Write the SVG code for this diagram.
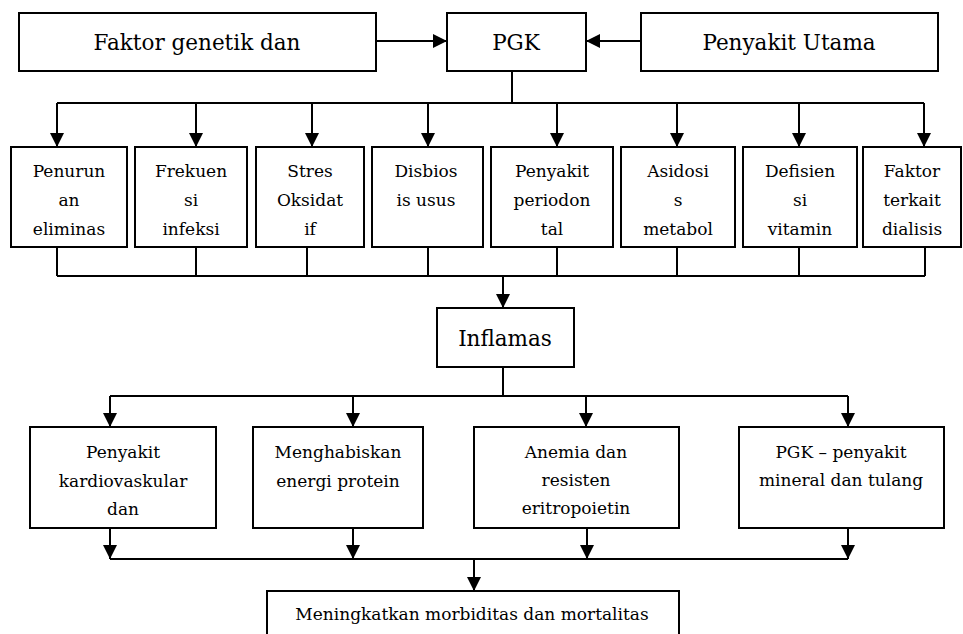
<svg xmlns="http://www.w3.org/2000/svg" width="963" height="634" viewBox="0 0 963 634" font-family="DejaVu Serif, serif">
<style>
rect{fill:#fff;stroke:#000;stroke-width:2}
text{fill:#000;text-anchor:middle}
.big{font-size:21.5px}
.mid{font-size:17px}
#connectors path{fill:none;stroke:#000;stroke-width:2}
.arr{marker-end:url(#ah)}
</style>
<defs>
<marker id="ah" markerUnits="userSpaceOnUse" viewBox="0 0 14 14" refX="14" refY="7" markerWidth="14" markerHeight="14" orient="auto">
<path d="M0,0 L14,7 L0,14 z" fill="#000"/>
</marker>
</defs>
<rect width="963" height="634" style="fill:#fff;stroke:none"/>
<g id="connectors">
<path class="arr" d="M376,41 H447"/>
<path class="arr" d="M641,41 H586"/>
<path d="M512,71 V103 M57,103 H924"/>
<path class="arr" d="M57,103 V147"/>
<path class="arr" d="M196,103 V147"/>
<path class="arr" d="M312,103 V147"/>
<path class="arr" d="M428,103 V147"/>
<path class="arr" d="M557,103 V147"/>
<path class="arr" d="M677,103 V147"/>
<path class="arr" d="M799,103 V147"/>
<path class="arr" d="M924,103 V147"/>
<path d="M57,247 V276 M196,247 V276 M307,247 V276 M428,247 V276 M557,247 V276 M677,247 V276 M799,247 V276 M925,247 V276 M57,276 H925"/>
<path class="arr" d="M503,276 V308"/>
<path d="M503,367 V396 M110,396 H848"/>
<path class="arr" d="M110,396 V427"/>
<path class="arr" d="M353,396 V427"/>
<path class="arr" d="M586,396 V427"/>
<path class="arr" d="M848,396 V427"/>
<path class="arr" d="M110,528 V559"/>
<path class="arr" d="M353,528 V559"/>
<path class="arr" d="M587,528 V559"/>
<path class="arr" d="M848,528 V559"/>
<path d="M110,559 H848"/>
<path class="arr" d="M474,559 V591"/>
</g>
<g id="faktor-genetik"><rect x="19" y="13" width="357" height="58"/><text class="big" x="197" y="50">Faktor genetik dan</text></g>
<g id="pgk"><rect x="447" y="13" width="139" height="58"/><text class="big" x="516" y="50">PGK</text></g>
<g id="penyakit-utama"><rect x="641" y="13" width="297" height="58"/><text class="big" x="789" y="50">Penyakit Utama</text></g>

<g id="penurunan"><rect x="11" y="147" width="116" height="100"/><text class="mid" x="69" y="177">Penurun</text><text class="mid" x="69" y="206">an</text><text class="mid" x="69" y="235">eliminas</text></g>
<g id="frekuensi"><rect x="135" y="147" width="112" height="100"/><text class="mid" x="191" y="177">Frekuen</text><text class="mid" x="191" y="206">si</text><text class="mid" x="191" y="235">infeksi</text></g>
<g id="stres"><rect x="256" y="147" width="108" height="100"/><text class="mid" x="310" y="177">Stres</text><text class="mid" x="310" y="206">Oksidat</text><text class="mid" x="310" y="235">if</text></g>
<g id="disbiosis"><rect x="372" y="147" width="111" height="100"/><text class="mid" x="426" y="177">Disbios</text><text class="mid" x="426" y="206">is usus</text></g>
<g id="periodontal"><rect x="491" y="147" width="122" height="100"/><text class="mid" x="552" y="177">Penyakit</text><text class="mid" x="552" y="206">periodon</text><text class="mid" x="552" y="235">tal</text></g>
<g id="asidosis"><rect x="621" y="147" width="114" height="100"/><text class="mid" x="678" y="177">Asidosi</text><text class="mid" x="678" y="206">s</text><text class="mid" x="678" y="235">metabol</text></g>
<g id="defisiensi"><rect x="743" y="147" width="114" height="100"/><text class="mid" x="800" y="177">Defisien</text><text class="mid" x="800" y="206">si</text><text class="mid" x="800" y="235">vitamin</text></g>
<g id="dialisis"><rect x="863" y="147" width="98" height="100"/><text class="mid" x="912" y="177">Faktor</text><text class="mid" x="912" y="206">terkait</text><text class="mid" x="912" y="235">dialisis</text></g>

<g id="inflamas"><rect x="437" y="308" width="137" height="59"/><text class="big" x="505" y="346">Inflamas</text></g>

<g id="kardiovaskular"><rect x="30" y="427" width="186" height="101"/><text class="mid" x="123" y="458">Penyakit</text><text class="mid" x="123" y="487">kardiovaskular</text><text class="mid" x="123" y="515">dan</text></g>
<g id="energi"><rect x="253" y="427" width="170" height="101"/><text class="mid" x="338" y="458">Menghabiskan</text><text class="mid" x="338" y="487">energi protein</text></g>
<g id="anemia"><rect x="474" y="427" width="205" height="101"/><text class="mid" x="576" y="458">Anemia dan</text><text class="mid" x="576" y="486">resisten</text><text class="mid" x="576" y="514">eritropoietin</text></g>
<g id="mineral"><rect x="739" y="427" width="205" height="101"/><text class="mid" x="841" y="458">PGK – penyakit</text><text class="mid" x="841" y="486">mineral dan tulang</text></g>

<g id="morbiditas"><rect x="267" y="591" width="412" height="50"/><text class="mid" x="472" y="620">Meningkatkan morbiditas dan mortalitas</text></g>
</svg>
